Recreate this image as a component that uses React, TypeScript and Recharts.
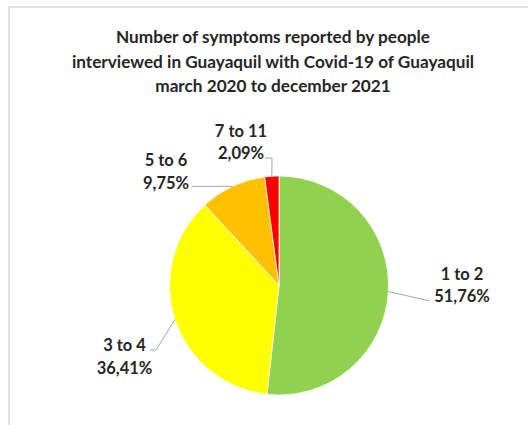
import React from 'react';
import { PieChart, Pie, Cell } from 'recharts';

const categories = ['1 to 2', '3 to 4', '5 to 6', '7 to 11'];
const percentages = [51.76, 36.41, 9.75, 2.09];
const colors = ['#92D050', '#FFFF00', '#FFC000', '#FF0000'];
const titleLines = [
  'Number of symptoms reported by people',
  'interviewed in Guayaquil with Covid-19 of Guayaquil',
  'march 2020 to december 2021',
];

const data = categories.map((name, i) => ({ name, value: percentages[i] }));

const FONT = 'Lato, "Open Sans", sans-serif';
const TEXT_COLOR = '#262626';
const RADIAN = Math.PI / 180;

// label layout relative to the pie centre (text centre, line bends)
const LABEL_LAYOUT = [
  { tx: 183, ty1: -12, ty2: 10, bends: [[151, 15.5]] },
  { tx: -154.5, ty1: 59.5, ty2: 82, bends: [[-123, 64.5], [-129, 64.5]] },
  { tx: -113, ty1: -125.5, ty2: -103, bends: [[-87, 'edge']] },
  { tx: -38, ty1: -154.5, ty2: -132.5, bends: [[-7, -127.5], [-14, -127.5]] },
];

const renderLabel = (props: any) => {
  const { cx, cy, midAngle, outerRadius, index, name, value } = props;
  const ex = cx + outerRadius * Math.cos(-midAngle * RADIAN);
  const ey = cy + outerRadius * Math.sin(-midAngle * RADIAN);
  const lay = LABEL_LAYOUT[index];
  const pts: [number, number][] = [[ex, ey]];
  lay.bends.forEach((b: any) => {
    const x = cx + b[0];
    const y = b[1] === 'edge' ? ey : cy + b[1];
    pts.push([x, y]);
  });
  const d = pts.map((p, i) => `${i === 0 ? 'M' : 'L'}${p[0]},${p[1]}`).join(' ');
  const pct = Number(value).toFixed(2).replace('.', ',') + '%';
  return (
    <g key={`lbl-${index}`}>
      <path d={d} stroke="#A6A6A6" strokeWidth={1} fill="none" />
      <text
        x={cx + lay.tx}
        y={cy + lay.ty1}
        textAnchor="middle"
        dominantBaseline="central"
        fontFamily={FONT}
        fontWeight={700}
        fontSize={16.5}
        fill={TEXT_COLOR}
      >
        {name}
      </text>
      <text
        x={cx + lay.tx}
        y={cy + lay.ty2}
        textAnchor="middle"
        dominantBaseline="central"
        fontFamily={FONT}
        fontWeight={700}
        fontSize={16.5}
        fill={TEXT_COLOR}
      >
        {pct}
      </text>
    </g>
  );
};

export default function App() {
  return (
    <div
      style={{
        position: 'absolute',
        left: 0,
        top: 0,
        width: 528,
        height: 425,
        background: '#fff',
        overflow: 'hidden',
      }}
    >
      <div
        style={{
          position: 'absolute',
          left: 8,
          top: 6,
          width: 600,
          height: 500,
          borderTop: '2px solid #E2E2E2',
          borderLeft: '2px solid #E2E2E2',
        }}
      />
      <div
        style={{
          position: 'absolute',
          left: 0,
          top: 25,
          width: 546,
          textAlign: 'center',
          fontFamily: FONT,
          fontWeight: 700,
          fontSize: 17.2,
          lineHeight: '24.5px',
          color: TEXT_COLOR,
        }}
      >
        {titleLines.map((t) => (
          <div key={t}>{t}</div>
        ))}
      </div>
      <div style={{ position: 'absolute', left: 0, top: 0 }}>
        <PieChart width={528} height={425} margin={{ top: 0, right: 0, bottom: 0, left: 0 }}>
          <Pie
            data={data}
            dataKey="value"
            nameKey="name"
            cx={279}
            cy={285.5}
            outerRadius={109.5}
            startAngle={90}
            endAngle={-270}
            stroke="#FFFFFF"
            strokeWidth={0.75}
            label={renderLabel}
            labelLine={false}
            isAnimationActive={false}
          >
            {data.map((d, i) => (
              <Cell key={d.name} fill={colors[i]} />
            ))}
          </Pie>
        </PieChart>
      </div>
    </div>
  );
}
